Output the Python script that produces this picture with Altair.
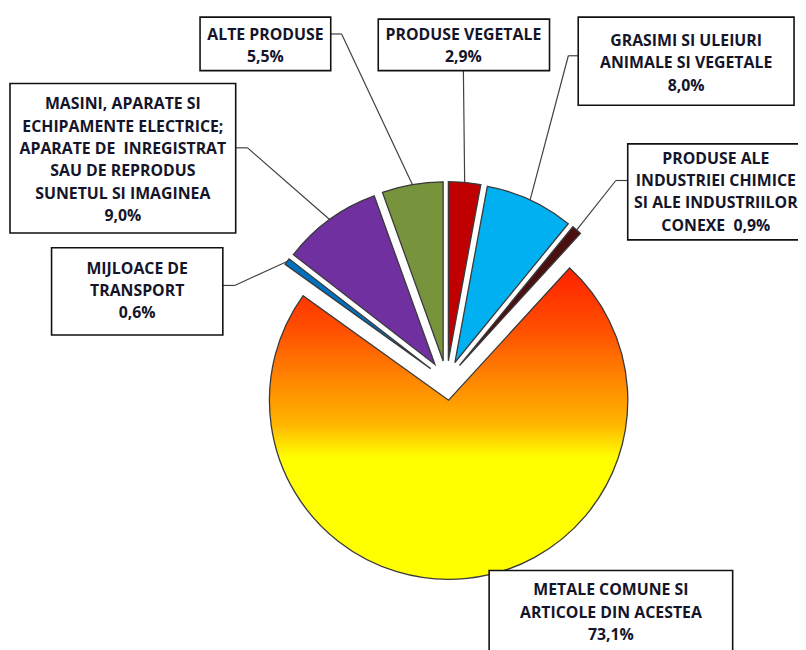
import altair as alt
import pandas as pd

# ---- data (clockwise from 12 o'clock) ----
categories = [
    "PRODUSE VEGETALE",
    "GRASIMI SI ULEIURI ANIMALE SI VEGETALE",
    "PRODUSE ALE INDUSTRIEI CHIMICE SI ALE INDUSTRIILOR CONEXE",
    "METALE COMUNE SI ARTICOLE DIN ACESTEA",
    "MIJLOACE DE TRANSPORT",
    "MASINI, APARATE SI ECHIPAMENTE ELECTRICE; APARATE DE INREGISTRAT SAU DE REPRODUS SUNETUL SI IMAGINEA",
    "ALTE PRODUSE",
]
shares = [2.9, 8.0, 0.9, 73.1, 0.6, 9.0, 5.5]
share_labels = ["2,9%", "8,0%", "0,9%", "73,1%", "0,6%", "9,0%", "5,5%"]
label_texts = [
    "PRODUSE VEGETALE\n2,9%",
    "GRASIMI SI ULEIURI\nANIMALE SI VEGETALE\n8,0%",
    "PRODUSE ALE\nINDUSTRIEI CHIMICE\nSI ALE INDUSTRIILOR\nCONEXE\u00a0 0,9%",
    "METALE COMUNE SI\nARTICOLE DIN ACESTEA\n73,1%",
    "MIJLOACE DE\nTRANSPORT\n0,6%",
    "MASINI, APARATE SI\nECHIPAMENTE ELECTRICE;\nAPARATE DE\u00a0 INREGISTRAT\nSAU DE REPRODUS\nSUNETUL SI IMAGINEA\n9,0%",
    "ALTE PRODUSE\n5,5%",
]

# ---- styles ----
slice_colors = ["#C00000", "#00B0F0", "#4A1010", "#FF8000", "#0070C0", "#7030A0", "#77933C"]
big_slice = "METALE COMUNE SI ARTICOLE DIN ACESTEA"

# ---- layout (page pixel coordinates) ----
M = 8  # page margin
CX, CY, R, D = 451, 381, 181, 20
# box x0, x1, y0, y1 ; first text line ; box anchor ; elbow
box_x0 = [382, 584, 634, 494, 52, 10, 202]
box_x1 = [555, 802, 812, 740, 225, 238, 334]
box_y0 = [16, 14, 142, 573, 247, 81, 14]
box_y1 = [68, 103, 239, 660, 335, 232, 68]
text_x = [468, 693, 723, 617, 138.5, 124, 268]
text_y = [32, 38, 157, 593, 268, 102, 32]
anchor_x = [468, 584, 634, None, 225, 238, 334]
anchor_y = [68, 53, 179, None, 285, 146, 31]
elbow_x = [468, 574, 622, None, 237, 250, 345]
elbow_y = [68, 53, 179, None, 285, 146, 31]

df = pd.DataFrame({
    "order": list(range(len(categories))),
    "category": categories,
    "share": shares,
    "share_label": share_labels,
    "label": label_texts,
    "bx0": [v - M for v in box_x0],
    "bx1": [v - M for v in box_x1],
    "by0": [v - M for v in box_y0],
    "by1": [v - M for v in box_y1],
    "tx": [v - M for v in text_x],
    "ty": [v - M for v in text_y],
    "ax": [None if v is None else v - M for v in anchor_x],
    "ay": [None if v is None else v - M for v in anchor_y],
    "ex": [None if v is None else v - M for v in elbow_x],
    "ey": [None if v is None else v - M for v in elbow_y],
    "leader": [a is not None for a in anchor_x],
})

cx0, cy0 = CX - M, CY - M

base = (
    alt.Chart(df)
    .transform_joinaggregate(total="sum(share)")
    .transform_window(cum="sum(share)", sort=[alt.SortField("order")], frame=[None, 0])
    .transform_calculate(
        t1="2*PI*datum.cum/datum.total",
        t0="2*PI*(datum.cum-datum.share)/datum.total",
        mid="(datum.t0+datum.t1)/2",
        cx=f"{cx0}+{D}*sin(datum.mid)",
        cy=f"{cy0}-{D}*cos(datum.mid)",
        px=f"{cx0}+{D + R}*sin(datum.mid)",
        py=f"{cy0}-{D + R}*cos(datum.mid)",
    )
)

arc_enc = dict(
    theta=alt.Theta("t0:Q", scale=None, stack=None),
    theta2=alt.Theta2("t1:Q"),
    x=alt.X("cx:Q", scale=None, axis=None),
    y=alt.Y("cy:Q", scale=None, axis=None),
)

small = base.transform_filter(alt.datum.category != big_slice).mark_arc(
    radius=R, stroke="#3a3a3a", strokeWidth=1.3
).encode(
    fill=alt.Fill("category:N", scale=alt.Scale(domain=categories, range=slice_colors), legend=None),
    **arc_enc,
)

gradient = alt.Gradient(
    gradient="linear",
    x1=0, x2=0, y1=0, y2=1,
    stops=[
        alt.GradientStop(color="#FF2000", offset=0),
        alt.GradientStop(color="#FF5000", offset=0.2),
        alt.GradientStop(color="#FF8000", offset=0.34),
        alt.GradientStop(color="#FFB400", offset=0.5),
        alt.GradientStop(color="#FFFF00", offset=0.61),
        alt.GradientStop(color="#FFFF00", offset=1),
    ],
)

big = base.transform_filter(alt.datum.category == big_slice).mark_arc(
    radius=R, stroke="#3a3a3a", strokeWidth=1.3, fill=gradient
).encode(**arc_enc)

lead = base.transform_filter(alt.datum.leader == True)
rule1 = lead.mark_rule(color="#404040", strokeWidth=1.2).encode(
    x=alt.X("px:Q", scale=None, axis=None),
    y=alt.Y("py:Q", scale=None, axis=None),
    x2="ex:Q",
    y2="ey:Q",
)
rule2 = lead.mark_rule(color="#404040", strokeWidth=1.2).encode(
    x=alt.X("ex:Q", scale=None, axis=None),
    y=alt.Y("ey:Q", scale=None, axis=None),
    x2="ax:Q",
    y2="ay:Q",
)

boxes = base.mark_rect(fill="white", stroke="#111111", strokeWidth=1.6).encode(
    x=alt.X("bx0:Q", scale=None, axis=None),
    x2="bx1:Q",
    y=alt.Y("by0:Q", scale=None, axis=None),
    y2="by1:Q",
)

texts = base.mark_text(
    font="Open Sans", fontWeight="bold", fontSize=16, lineBreak="\n", lineHeight=22.6,
    align="center", baseline="middle", color="#15152a",
).encode(
    x=alt.X("tx:Q", scale=None, axis=None),
    y=alt.Y("ty:Q", scale=None, axis=None),
    text="label:N",
)

chart = (
    alt.layer(small, big, rule1, rule2, boxes, texts)
    .properties(width=798, height=642, autosize="none", padding=0, background="white")
    .configure_view(stroke=None)
)

chart.save("out.html", embed_options={"renderer": "svg", "actions": False})
